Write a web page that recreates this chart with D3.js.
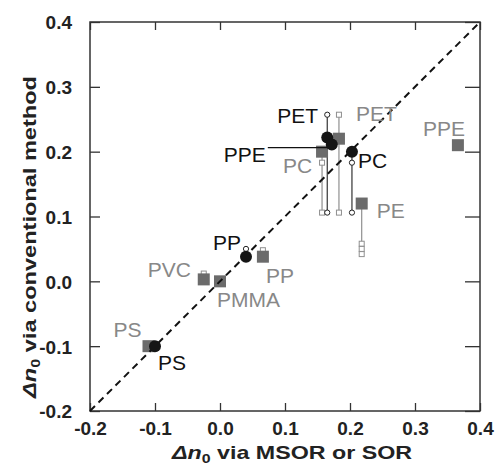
<!DOCTYPE html>
<html>
<head>
<meta charset="utf-8">
<script src="https://cdn.jsdelivr.net/npm/d3@7"></script>
<style>
  body { margin: 0; background: #fff; }
  svg { display: block; font-family: "Liberation Sans", Arial, sans-serif; }
</style>
</head>
<body>
<div id="chart"></div>
<script>

/////////// DATA ******************************************
// *******************************************************************

// filled black circles
var circleNames = ["PS", "PP", "PET", "PPE", "PC"];
var circleX = [-0.100, 0.040, 0.165, 0.172, 0.203];
var circleY = [-0.100, 0.038, 0.222, 0.211, 0.200];
// small open circles hanging on the same x
var circleSubY = [[], [0.050], [0.257, 0.106], [], [0.183, 0.106]];

// filled grey squares
var squareNames = ["PS", "PVC", "PMMA", "PP", "PC", "PET", "PE", "PPE"];
var squareX = [-0.110, -0.025, 0.000, 0.066, 0.157, 0.183, 0.218, 0.366];
var squareY = [-0.100, 0.003, 0.000, 0.038, 0.200, 0.220, 0.120, 0.210];
// small open squares hanging on the same x
var squareSubY = [[], [0.012], [], [0.048], [0.183, 0.106], [0.257, 0.106], [0.058, 0.050, 0.042], []];

var tickValues = [-0.2, -0.1, 0.0, 0.1, 0.2, 0.3, 0.4];

/////////// LAYOUT ******************************************
// *******************************************************************

var svgWidth = 496;
var svgHeight = 468;
var margin = { top: 22, right: 16, bottom: 57, left: 90 };
var chartWidth = svgWidth - margin.left - margin.right;
var chartHeight = svgHeight - margin.top - margin.bottom;

// label offsets in px from the marker centre [dx, dy, anchor]
var circleLabelPos = [[3, 24, "start"], [-33, -7, "start"], [-50, -14, "start"], [-66, 17, "end"], [6, 16, "start"]];
var squareLabelPos = [[-35, -9, "start"], [-56, -2, "start"], [-3, 26, "start"], [3, 26, "start"],
                      [-39, 21, "start"], [17, -18, "start"], [15, 14, "start"], [-35, -9, "start"]];

var svg = d3.select("#chart")
  .append("svg")
  .attr("width", svgWidth)
  .attr("height", svgHeight);

var chartGroup = svg.append("g")
  .attr("transform", `translate(${margin.left}, ${margin.top})`);

/////////// SCALES + AXES ******************************************
// *******************************************************************

var xScale = d3.scaleLinear().domain([-0.2, 0.4]).range([0, chartWidth]);
var yScale = d3.scaleLinear().domain([-0.2, 0.4]).range([chartHeight, 0]);

// plain hyphen for negatives, like the original
var fmt = d => d.toFixed(1);

var xAxis = d3.axisBottom(xScale).tickValues(tickValues).tickSizeInner(-8).tickSizeOuter(0).tickPadding(11).tickFormat(fmt);
var yAxis = d3.axisLeft(yScale).tickValues(tickValues).tickSizeInner(-10).tickSizeOuter(0).tickPadding(18).tickFormat(fmt);
var xTop = d3.axisTop(xScale).tickValues(tickValues).tickSizeInner(-8).tickSizeOuter(0).tickFormat("");
var yRight = d3.axisRight(yScale).tickValues(tickValues).tickSizeInner(-15).tickSizeOuter(0).tickFormat("");

var gx = chartGroup.append("g").attr("transform", `translate(0, ${chartHeight})`).call(xAxis);
var gy = chartGroup.append("g").call(yAxis);
var gt = chartGroup.append("g").call(xTop);
var gr = chartGroup.append("g").attr("transform", `translate(${chartWidth}, 0)`).call(yRight);

[gx, gy, gt, gr].forEach(function(g) {
  g.select(".domain").remove();
  g.selectAll(".tick line").attr("stroke", "#333").attr("stroke-width", 1.3);
  g.selectAll(".tick text")
    .attr("fill", "#222")
    .attr("font-size", "19px")
    .attr("font-weight", "bold")
    .attr("font-family", "'Liberation Sans', Arial, sans-serif");
});
gy.selectAll(".tick text").attr("dy", "0.36em");

// frame
chartGroup.append("rect")
  .attr("width", chartWidth)
  .attr("height", chartHeight)
  .attr("fill", "none")
  .attr("stroke", "#333")
  .attr("stroke-width", 1.5);

/////////// HANGING LINES + SMALL OPEN MARKERS ****************
// *******************************************************************

var squares = squareNames.map(function(n, i) {
  return { name: n, x: squareX[i], y: squareY[i], sub: squareSubY[i], lab: squareLabelPos[i] };
});
var circles = circleNames.map(function(n, i) {
  return { name: n, x: circleX[i], y: circleY[i], sub: circleSubY[i], lab: circleLabelPos[i] };
});

function hangLine(d) {
  var ys = d.sub.concat([d.y]);
  return [d3.min(ys), d3.max(ys)];
}

chartGroup.selectAll(".sqline")
  .data(squares.filter(d => d.sub.length > 0))
  .enter()
  .append("line")
  .attr("x1", d => xScale(d.x))
  .attr("x2", d => xScale(d.x))
  .attr("y1", d => yScale(hangLine(d)[0]))
  .attr("y2", d => yScale(hangLine(d)[1]))
  .attr("stroke", "#8f8f8f")
  .attr("stroke-width", 1.2);

chartGroup.selectAll(".ciline")
  .data(circles.filter(d => d.sub.length > 0))
  .enter()
  .append("line")
  .attr("x1", d => xScale(d.x))
  .attr("x2", d => xScale(d.x))
  .attr("y1", d => yScale(hangLine(d)[0]))
  .attr("y2", d => yScale(hangLine(d)[1]))
  .attr("stroke", "#333")
  .attr("stroke-width", 1.2);

var squareSubs = [];
squares.forEach(function(d) { d.sub.forEach(function(v) { squareSubs.push({ x: d.x, y: v }); }); });
var circleSubs = [];
circles.forEach(function(d) { d.sub.forEach(function(v) { circleSubs.push({ x: d.x, y: v }); }); });

chartGroup.selectAll(".sqsub")
  .data(squareSubs)
  .enter()
  .append("rect")
  .attr("x", d => xScale(d.x) - 2.5)
  .attr("y", d => yScale(d.y) - 2.5)
  .attr("width", 5)
  .attr("height", 5)
  .attr("fill", "#fff")
  .attr("stroke", "#8f8f8f")
  .attr("stroke-width", 1);

chartGroup.selectAll(".cisub")
  .data(circleSubs)
  .enter()
  .append("circle")
  .attr("cx", d => xScale(d.x))
  .attr("cy", d => yScale(d.y))
  .attr("r", 2.6)
  .attr("fill", "#fff")
  .attr("stroke", "#222")
  .attr("stroke-width", 1);

/////////// MAIN MARKERS ******************************************
// *******************************************************************

chartGroup.selectAll(".sq")
  .data(squares)
  .enter()
  .append("rect")
  .attr("x", d => xScale(d.x) - 6)
  .attr("y", d => yScale(d.y) - 6)
  .attr("width", 12)
  .attr("height", 12)
  .attr("fill", "#6b6b6b");

// y = x reference line
chartGroup.append("line")
  .attr("x1", xScale(-0.2))
  .attr("y1", yScale(-0.2))
  .attr("x2", xScale(0.4))
  .attr("y2", yScale(0.4))
  .attr("stroke", "#111")
  .attr("stroke-width", 2)
  .attr("stroke-dasharray", "7,5");

// leader line for PPE (black)
var ppe = circles[3];
chartGroup.append("line")
  .attr("x1", xScale(ppe.x) + ppe.lab[0] + 2)
  .attr("y1", yScale(ppe.y) + 3)
  .attr("x2", xScale(ppe.x))
  .attr("y2", yScale(ppe.y) + 3)
  .attr("stroke", "#111")
  .attr("stroke-width", 1.3);

chartGroup.selectAll(".ci")
  .data(circles)
  .enter()
  .append("circle")
  .attr("cx", d => xScale(d.x))
  .attr("cy", d => yScale(d.y))
  .attr("r", 6)
  .attr("fill", "#151515");

/////////// POINT LABELS ******************************************
// *******************************************************************

chartGroup.selectAll(".sqlab")
  .data(squares)
  .enter()
  .append("text")
  .attr("x", d => xScale(d.x) + d.lab[0])
  .attr("y", d => yScale(d.y) + d.lab[1])
  .attr("text-anchor", d => d.lab[2])
  .attr("font-size", "21px")
  .attr("fill", "#888")
  .text(d => d.name);

chartGroup.selectAll(".cilab")
  .data(circles)
  .enter()
  .append("text")
  .attr("x", d => xScale(d.x) + d.lab[0])
  .attr("y", d => yScale(d.y) + d.lab[1])
  .attr("text-anchor", d => d.lab[2])
  .attr("font-size", "21px")
  .attr("fill", "#111")
  .text(d => d.name);

/////////// AXIS TITLES ******************************************
// *******************************************************************

var xTitle = svg.append("text")
  .attr("x", 292)
  .attr("y", 459)
  .attr("text-anchor", "middle")
  .attr("font-size", "19px")
  .attr("font-weight", "bold")
  .attr("textLength", 240)
  .attr("lengthAdjust", "spacingAndGlyphs")
  .attr("fill", "#222");
xTitle.append("tspan").attr("font-style", "italic").text("\u0394n");
xTitle.append("tspan").attr("font-size", "13px").attr("dy", 4).text("0");
xTitle.append("tspan").attr("dy", -4).text(" via MSOR or SOR");

var yTitle = svg.append("text")
  .attr("transform", "translate(36, 237) rotate(-90)")
  .attr("text-anchor", "middle")
  .attr("font-size", "19px")
  .attr("font-weight", "bold")
  .attr("textLength", 322)
  .attr("lengthAdjust", "spacingAndGlyphs")
  .attr("fill", "#222");
yTitle.append("tspan").attr("font-style", "italic").text("\u0394n");
yTitle.append("tspan").attr("font-size", "13px").attr("dy", 4).text("0");
yTitle.append("tspan").attr("dy", -4).text(" via conventional method");

</script>
</body>
</html>
